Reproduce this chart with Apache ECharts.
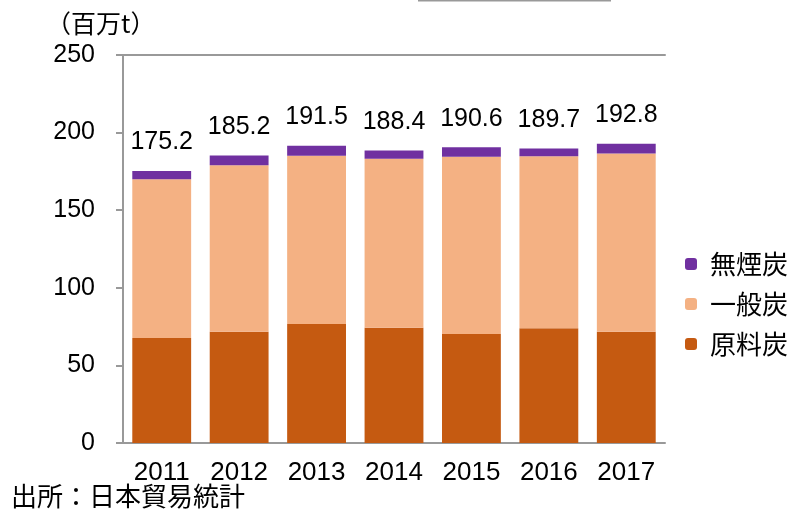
<!DOCTYPE html>
<html>
<head>
<meta charset="utf-8">
<script src="https://cdn.jsdelivr.net/npm/echarts@6/dist/echarts.min.js"></script>
<style>html,body{margin:0;padding:0;background:#fff}#c{width:792px;height:514px}</style>
</head>
<body>
<div id="c"></div>
<script>
const categories = ['2011','2012','2013','2014','2015','2016','2017'];
const cokingCoal = [67.7, 71.7, 76.6, 74.2, 70.2, 74.0, 71.7];   // 原料炭
const steamCoal = [102.3, 107.2, 108.5, 109.0, 114.2, 110.7, 114.8]; // 一般炭
const anthracite = [5.2, 6.3, 6.4, 5.2, 6.2, 5.0, 6.3];          // 無煙炭
const totals = [175.2, 185.2, 191.5, 188.4, 190.6, 189.7, 192.8];
const seriesNames = ['原料炭', '一般炭', '無煙炭'];
const yTicks = [0, 50, 100, 150, 200, 250];

const FONT = '"Liberation Sans", Arial, "Noto Sans CJK JP", sans-serif';
const CJK = '"Noto Sans CJK JP", sans-serif';
const chart = echarts.init(document.getElementById('c'));
chart.setOption({
  animation: false,
  textStyle: { fontFamily: FONT },
  grid: { left: 123, right: 127, top: 55, bottom: 71 },
  legend: {
    orient: 'vertical',
    left: 680,
    top: 246,
    itemWidth: 12,
    itemHeight: 12,
    itemGap: 14,
    data: ['無煙炭', '一般炭', '原料炭'],
    textStyle: { fontSize: 26, color: '#000', fontFamily: CJK, padding: [0, 0, 0, 8] }
  },
  graphic: [
    { type: 'text', left: 46, top: 11, style: { text: '（百万t）', fontSize: 25, fontFamily: CJK, fill: '#000' } },
    { type: 'text', left: 11, top: 483, style: { text: '出所：日本貿易統計', fontSize: 26, fontFamily: CJK, fill: '#000' } },
    { type: 'line', shape: { x1: 418, y1: 0.5, x2: 611, y2: 0.5 }, style: { stroke: '#999', lineWidth: 2 } }
  ],
  xAxis: [{
    type: 'category',
    data: categories,
    axisLine: { lineStyle: { color: '#999', width: 2 } },
    axisTick: { show: false },
    axisLabel: { fontSize: 26, color: '#000', margin: 17, fontFamily: FONT }
  }, {
    type: 'category',
    position: 'top',
    data: categories,
    axisLine: { show: true, lineStyle: { color: '#999', width: 2 } },
    axisTick: { show: false },
    axisLabel: { show: false }
  }],
  yAxis: {
    type: 'value',
    min: yTicks[0],
    max: yTicks[yTicks.length - 1],
    interval: 50,
    axisLine: { show: true, lineStyle: { color: '#999', width: 2 } },
    axisTick: { show: true, inside: false, length: 7, lineStyle: { color: '#999', width: 2 } },
    splitLine: { show: false },
    axisLabel: { fontSize: 25, color: '#000', margin: 28, fontFamily: FONT }
  },
  series: [
    { name: seriesNames[0], type: 'bar', stack: 'a', data: cokingCoal, barCategoryGap: '24%', itemStyle: { color: '#C55A11' } },
    { name: seriesNames[1], type: 'bar', stack: 'a', data: steamCoal, itemStyle: { color: '#F4B183' } },
    { name: seriesNames[2], type: 'bar', stack: 'a', data: anthracite, itemStyle: { color: '#7030A0' },
      label: { show: true, position: 'top', distance: 16, fontSize: 25, color: '#000', fontFamily: FONT,
        formatter: p => totals[p.dataIndex].toFixed(1) } }
  ]
});
</script>
</body>
</html>
